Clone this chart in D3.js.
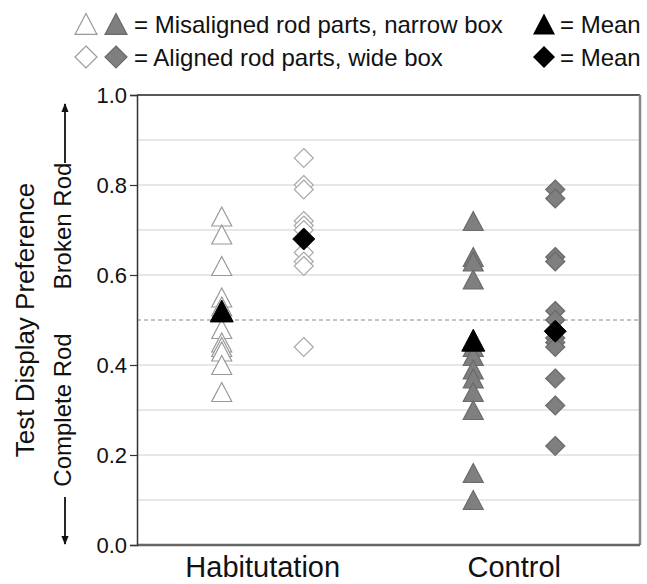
<!DOCTYPE html>
<html lang="en">
<head>
    <meta charset="UTF-8">
    <title>Test Display Preference - Habituation vs Control</title>
    <script src="https://d3js.org/d3.v7.min.js"></script>
    <style>
        body { margin: 0; background: #fff; }
        text { font-family: "Liberation Sans", Arial, sans-serif; fill: #111; }
    </style>
</head>
<body>
    <svg id="chart" width="647" height="584"></svg>
    <script>
        // data
        const groups = ["Habitutation", "Control"];
        const habTriangles = [0.73, 0.69, 0.62, 0.55, 0.53, 0.48, 0.45, 0.44, 0.43, 0.40, 0.34];
        const habDiamonds = [0.86, 0.80, 0.79, 0.72, 0.71, 0.70, 0.65, 0.63, 0.62, 0.44];
        const ctlTriangles = [0.72, 0.64, 0.63, 0.59, 0.44, 0.42, 0.39, 0.37, 0.34, 0.30, 0.16, 0.10];
        const ctlDiamonds = [0.79, 0.77, 0.64, 0.63, 0.52, 0.50, 0.46, 0.45, 0.44, 0.37, 0.31, 0.22];
        const habMeans = { tri: 0.52, dia: 0.68 };
        const ctlMeans = { tri: 0.455, dia: 0.475 };
        const yTicks = [0, 0.2, 0.4, 0.6, 0.8, 1.0];
        const gridVals = [0.1, 0.2, 0.3, 0.4, 0.6, 0.7, 0.8, 0.9];

        const svg = d3.select("#chart");
        const margin = { top: 95, right: 7, bottom: 39, left: 137 };
        const width = 647 - margin.left - margin.right;
        const height = 584 - margin.top - margin.bottom;

        const g = svg.append("g")
            .attr("transform", `translate(${margin.left},${margin.top})`);

        const y = d3.scaleLinear().domain([0, 1]).range([height, 0]);
        const xGroup = d3.scaleBand().domain(groups).range([0, width]);
        const xSeries = d3.scalePoint().domain(["tri", "dia"]).range([-41, 41]);

        // grid lines
        g.selectAll(".grid")
            .data(gridVals)
            .join("line")
            .attr("x1", 0).attr("x2", width)
            .attr("y1", d => y(d)).attr("y2", d => y(d))
            .style("stroke", "#cfcfcf")
            .style("stroke-width", 1.2);

        g.append("line")
            .attr("x1", 0).attr("x2", width)
            .attr("y1", y(0.5)).attr("y2", y(0.5))
            .style("stroke", "#888")
            .style("stroke-width", 1)
            .style("stroke-dasharray", "4,3");

        // frame: top dark, right/bottom gray
        g.append("line")
            .attr("x1", 0).attr("x2", width).attr("y1", y(1)).attr("y2", y(1))
            .style("stroke", "#222").style("stroke-width", 1.5);
        g.append("line")
            .attr("x1", width).attr("x2", width).attr("y1", y(1)).attr("y2", y(0))
            .style("stroke", "#888").style("stroke-width", 2.5);
        g.append("line")
            .attr("x1", 0).attr("x2", width).attr("y1", y(0)).attr("y2", y(0))
            .style("stroke", "#666").style("stroke-width", 2.5);

        // y axis
        const yAxis = g.append("g")
            .call(d3.axisLeft(y).tickValues(yTicks).tickFormat(d3.format(".1f")).tickSize(7).tickPadding(3));
        yAxis.select(".domain").style("stroke", "#333").style("stroke-width", 1.5);
        yAxis.selectAll(".tick line").style("stroke", "#333").style("stroke-width", 1.2);
        yAxis.selectAll(".tick text")
            .style("font-size", "22px")
            .style("font-family", "'Liberation Sans', Arial, sans-serif")
            .style("fill", "#111");

        // x labels
        g.selectAll(".xlabel")
            .data(groups)
            .join("text")
            .attr("x", d => xGroup(d) + xGroup.bandwidth() / 2)
            .attr("y", height + 32)
            .attr("text-anchor", "middle")
            .style("font-size", "29px")
            .text(d => d);

        // marker shapes
        function triPath(s) {
            const h = s * 0.95;
            return `M0,${-h / 2}L${s / 2},${h / 2}L${-s / 2},${h / 2}Z`;
        }
        function diaPath(s) {
            return `M0,${-s / 2}L${s / 2},0L0,${s / 2}L${-s / 2},0Z`;
        }

        const seriesDefs = [
            { group: "Habitutation", kind: "tri", values: habTriangles, fill: "#fff", stroke: "#999" },
            { group: "Habitutation", kind: "dia", values: habDiamonds, fill: "#fff", stroke: "#aaa" },
            { group: "Control", kind: "tri", values: ctlTriangles, fill: "#7f7f7f", stroke: "#6a6a6a" },
            { group: "Control", kind: "dia", values: ctlDiamonds, fill: "#7f7f7f", stroke: "#6a6a6a" }
        ];

        seriesDefs.forEach(s => {
            const cx = xGroup(s.group) + xGroup.bandwidth() / 2 + xSeries(s.kind);
            g.append("g").selectAll("path")
                .data(s.values)
                .join("path")
                .attr("transform", d => `translate(${cx},${y(d)})`)
                .attr("d", s.kind === "tri" ? triPath(20) : diaPath(19))
                .style("fill", s.fill)
                .style("stroke", s.stroke)
                .style("stroke-width", 1.2);
        });

        // means
        [["Habitutation", habMeans], ["Control", ctlMeans]].forEach(([grp, m]) => {
            ["tri", "dia"].forEach(kind => {
                const cx = xGroup(grp) + xGroup.bandwidth() / 2 + xSeries(kind);
                g.append("path")
                    .attr("transform", `translate(${cx},${y(m[kind])})`)
                    .attr("d", kind === "tri" ? triPath(23) : diaPath(22))
                    .style("fill", "#000")
                    .style("stroke", "#000");
            });
        });

        // y axis titles
        svg.append("text")
            .attr("transform", "translate(34,320) rotate(-90)")
            .attr("text-anchor", "middle")
            .style("font-size", "26px")
            .text("Test Display Preference");

        svg.append("text")
            .attr("transform", "translate(71,226) rotate(-90)")
            .attr("text-anchor", "middle")
            .style("font-size", "24px")
            .text("Broken Rod");
        svg.append("text")
            .attr("transform", "translate(71,410) rotate(-90)")
            .attr("text-anchor", "middle")
            .style("font-size", "24px")
            .text("Complete Rod");

        const defs = svg.append("defs");
        defs.append("marker")
            .attr("id", "arrow")
            .attr("viewBox", "0 0 10 10")
            .attr("refX", 9).attr("refY", 5)
            .attr("markerWidth", 5).attr("markerHeight", 8)
            .attr("orient", "auto")
            .append("path")
            .attr("d", "M0,1L10,5L0,9Z")
            .style("fill", "#111");

        svg.append("line")
            .attr("x1", 65).attr("x2", 65).attr("y1", 163).attr("y2", 104)
            .style("stroke", "#111").style("stroke-width", 1.8)
            .attr("marker-end", "url(#arrow)");
        svg.append("line")
            .attr("x1", 65).attr("x2", 65).attr("y1", 497).attr("y2", 544)
            .style("stroke", "#111").style("stroke-width", 1.8)
            .attr("marker-end", "url(#arrow)");

        // legend
        const legend = svg.append("g");
        const legRows = [
            { y: 24, shape: "tri", text: "= Misaligned rod parts, narrow box" },
            { y: 57, shape: "dia", text: "= Aligned rod parts, wide box" }
        ];
        legRows.forEach(r => {
            const p = r.shape === "tri" ? triPath(22) : diaPath(22);
            legend.append("path").attr("transform", `translate(86,${r.y})`).attr("d", p)
                .style("fill", "#fff").style("stroke", "#999").style("stroke-width", 1.2);
            legend.append("path").attr("transform", `translate(116,${r.y})`).attr("d", p)
                .style("fill", "#7f7f7f").style("stroke", "#6a6a6a").style("stroke-width", 1.2);
            legend.append("text").attr("x", 134).attr("y", r.y + 9)
                .style("font-size", "24px").text(r.text);
            legend.append("path").attr("transform", `translate(544,${r.y})`).attr("d", p)
                .style("fill", "#000");
            legend.append("text").attr("x", 560).attr("y", r.y + 9)
                .style("font-size", "24px").text("= Mean");
        });
    </script>
</body>
</html>
